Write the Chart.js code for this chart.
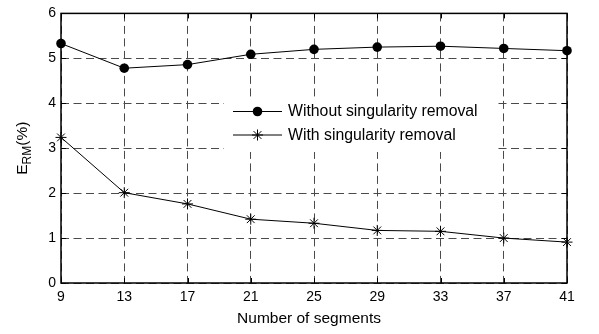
<!DOCTYPE html>
<html>
<head>
<meta charset="utf-8">
<script src="https://cdn.jsdelivr.net/npm/chart.js@4/dist/chart.umd.min.js"></script>
<style>
html,body{margin:0;padding:0;background:#fff;}
#wrap{width:599px;height:334px;}
</style>
</head>
<body>
<div id="wrap"><canvas id="c" width="599" height="334"></canvas></div>
<script>
const segments = [9, 13, 17, 21, 25, 29, 33, 37, 41];
const withoutRemoval = [5.33, 4.78, 4.86, 5.09, 5.20, 5.25, 5.27, 5.22, 5.17];
const withRemoval = [3.24, 2.01, 1.76, 1.42, 1.33, 1.17, 1.15, 1.00, 0.91];
const yTickValues = [0, 1, 2, 3, 4, 5, 6];
const seriesLabels = ['Without singularity removal', 'With singularity removal'];
const xTitle = 'Number of segments';

const FONT = 'Arial, "Liberation Sans", Helvetica, sans-serif';

function pts(vals){ return segments.map((x,i)=>({x:x, y:vals[i]})); }

function drawMarker(ctx, style, x, y, r){
  ctx.save();
  ctx.strokeStyle = '#000'; ctx.fillStyle = '#000'; ctx.lineWidth = 1;
  if (style === 'circle') {
    ctx.beginPath(); ctx.arc(x, y, r, 0, Math.PI*2); ctx.fill();
  } else {
    const d = Math.cos(Math.PI/4)*r;
    ctx.beginPath();
    ctx.moveTo(x, y-r); ctx.lineTo(x, y+r);
    ctx.moveTo(x-r, y); ctx.lineTo(x+r, y);
    ctx.moveTo(x-d, y-d); ctx.lineTo(x+d, y+d);
    ctx.moveTo(x-d, y+d); ctx.lineTo(x+d, y-d);
    ctx.stroke();
  }
  ctx.restore();
}

const framePlugin = {
  id: 'frame',
  afterDraw(chart){
    const ctx = chart.ctx;
    const a = chart.chartArea;
    const xs = chart.scales.x, ys = chart.scales.y;
    ctx.save();
    ctx.strokeStyle = '#000'; ctx.lineWidth = 1;
    ctx.beginPath();
    xs.ticks.forEach(t=>{
      const px = Math.round(xs.getPixelForValue(t.value))+0.5;
      ctx.moveTo(px, a.bottom); ctx.lineTo(px, a.bottom-5);
      ctx.moveTo(px, a.top); ctx.lineTo(px, a.top+5);
    });
    ys.ticks.forEach(t=>{
      const py = Math.round(ys.getPixelForValue(t.value))+0.5;
      ctx.moveTo(a.left, py); ctx.lineTo(a.left+5, py);
      ctx.moveTo(a.right, py); ctx.lineTo(a.right-5, py);
    });
    ctx.stroke();
    ctx.lineWidth = 1.5;
    ctx.strokeRect(a.left, a.top, a.right-a.left, a.bottom-a.top);

    // legend
    const lx = 224, ly = 100, lw = 272, lh = 52;
    ctx.fillStyle = '#fff';
    ctx.fillRect(lx, ly, lw, lh);
    const rows = [
      {label: seriesLabels[0], style: 'circle', r: 4.8, y: 111.5},
      {label: seriesLabels[1], style: 'star', r: 5.5, y: 135}
    ];
    rows.forEach(row=>{
      ctx.strokeStyle = '#000'; ctx.lineWidth = 1;
      ctx.beginPath(); ctx.moveTo(233, row.y); ctx.lineTo(282, row.y); ctx.stroke();
      drawMarker(ctx, row.style, 257.5, row.y, row.r);
      ctx.fillStyle = '#000';
      ctx.font = '15.8px ' + FONT;
      ctx.textAlign = 'left'; ctx.textBaseline = 'middle';
      ctx.fillText(row.label, 288, row.y + 0.5);
    });

    // x title
    ctx.fillStyle = '#000';
    ctx.font = '15.5px ' + FONT;
    ctx.textAlign = 'center'; ctx.textBaseline = 'middle';
    ctx.fillText(xTitle, (a.left + a.right)/2 - 5, 319);

    // y title with subscript
    ctx.save();
    ctx.translate(22, (a.top + a.bottom)/2);
    ctx.rotate(-Math.PI/2);
    ctx.textBaseline = 'alphabetic'; ctx.textAlign = 'left';
    const big = '15.5px ' + FONT, small = '12px ' + FONT;
    ctx.font = big; const wE = ctx.measureText('E').width; const wP = ctx.measureText('(%)').width;
    ctx.font = small; const wR = ctx.measureText('RM').width;
    const total = wE + wR + wP;
    let cx = -total/2;
    const base = 5;
    ctx.font = big; ctx.fillText('E', cx, base); cx += wE;
    ctx.font = small; ctx.fillText('RM', cx, base + 4); cx += wR;
    ctx.font = big; ctx.fillText('(%)', cx, base);
    ctx.restore();
    ctx.restore();
  }
};

new Chart(document.getElementById('c'), {
  type: 'line',
  data: {
    datasets: [
      {
        label: seriesLabels[0],
        data: pts(withoutRemoval),
        borderColor: '#000', backgroundColor: '#000',
        borderWidth: 1,
        pointStyle: 'circle', pointRadius: 4.8,
        pointBackgroundColor: '#000', pointBorderColor: '#000', pointBorderWidth: 0,
        tension: 0, clip: false
      },
      {
        label: seriesLabels[1],
        data: pts(withRemoval),
        borderColor: '#000', backgroundColor: '#000',
        borderWidth: 1,
        pointStyle: 'star', pointRadius: 5.5,
        pointBorderColor: '#000', pointBorderWidth: 1,
        tension: 0, clip: false
      }
    ]
  },
  options: {
    responsive: false,
    animation: false,
    events: [],
    layout: { padding: { left: 0, right: 32, top: 6, bottom: 0 } },
    plugins: { legend: { display: false }, tooltip: { enabled: false }, title: { display: false } },
    scales: {
      x: {
        type: 'linear', min: 9, max: 41,
        afterBuildTicks(scale){ scale.ticks = segments.map(v=>({value: v})); },
        afterFit(scale){ scale.height = 51; },
        grid: { color: '#4a4a4a', lineWidth: 1, drawTicks: false },
        border: { display: false, dash: [8, 4.5] },
        ticks: { color: '#000', font: { family: FONT, size: 14 }, padding: 6, maxRotation: 0, autoSkip: false }
      },
      y: {
        min: 0, max: 6,
        afterBuildTicks(scale){ scale.ticks = yTickValues.map(v=>({value: v})); },
        afterFit(scale){ scale.width = 61; },
        grid: { color: '#4a4a4a', lineWidth: 1, drawTicks: false },
        border: { display: false, dash: [8, 4.5] },
        ticks: { color: '#000', font: { family: FONT, size: 14 }, padding: 5 }
      }
    }
  },
  plugins: [framePlugin]
});
</script>
</body>
</html>
